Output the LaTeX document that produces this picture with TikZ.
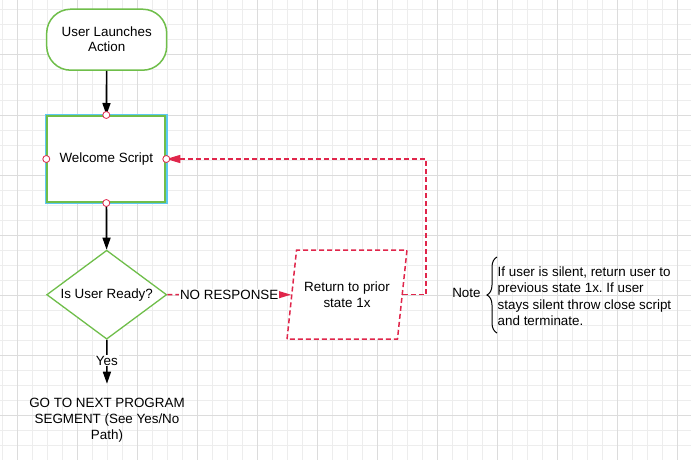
\documentclass[tikz,border=0pt]{standalone}
\usepackage{fontspec}
\setmainfont{Liberation Sans}
\usetikzlibrary{arrows.meta,shapes.geometric,decorations.pathreplacing}
\definecolor{flowgreen}{HTML}{6FBE4A}
\definecolor{flowred}{HTML}{E0264B}
\definecolor{selblue}{HTML}{5CC8F2}
\definecolor{gridminor}{HTML}{EDEDED}
\definecolor{gridmajor}{HTML}{DCDCDC}
\tikzset{
	every node/.style={font=\fontsize{13.4}{16}\selectfont},
	terminal/.style={draw=flowgreen, line width=1.5pt, fill=white, rounded corners=24pt,
		minimum width=120pt, minimum height=61pt, align=center, font=\fontsize{13.4}{15}\selectfont},
	process/.style={draw=flowgreen, line width=2pt, fill=white, minimum width=118pt, minimum height=86pt},
	decision/.style={draw=flowgreen, line width=1.3pt, fill=white, diamond, aspect=1.35, inner sep=0pt,
		minimum width=120pt, minimum height=89pt},
	retrybox/.style={draw=flowred, line width=1.5pt, dash pattern=on 5pt off 3pt, fill=white, trapezium,
		trapezium left angle=75, trapezium right angle=105, trapezium stretches=true,
		minimum width=120pt, minimum height=89pt, align=center},
	flowarrow/.style={draw=black, line width=1.6pt, -{Triangle[length=12pt,width=8pt]}},
	redarrow/.style={draw=flowred, line width=1.5pt, dash pattern=on 5pt off 3pt,
		-{Triangle[length=14pt,width=8pt,fill=flowred]}},
	edgelabel/.style={fill=white, inner sep=1pt},
	anchordot/.style={draw=flowred, line width=0.8pt, fill=white},
	notebrace/.style={draw=black, line width=1pt, decorate, decoration={brace, amplitude=10pt}}
}

\begin{document}
\frenchspacing
\begin{tikzpicture}[x=1pt, y=-1pt]
		%%%%% START %%%%%
		\fill[white] (0, 0) rectangle (691, 460);
		\useasboundingbox (0, 0) rectangle (691, 460);
		
		% grid
		\foreach \gx in {2,17,...,692} \draw[gridminor, line width=1pt] (\gx, 0) -- (\gx, 460);
		\foreach \gy in {10,25,...,460} \draw[gridminor, line width=1pt] (0, \gy) -- (691, \gy);
		\foreach \gx in {17,77,...,692} \draw[gridmajor, line width=1pt] (\gx, 0) -- (\gx, 460);
		\foreach \gy in {55,115,...,460} \draw[gridmajor, line width=1pt] (0, \gy) -- (691, \gy);
		
		% shapes
		\node[terminal] (launch) at (106.7, 39.7) {User Launches\\Action};
		\node[process] (welcome) at (106.3, 159) {Welcome Script};
		\draw[selblue, line width=1.5pt] ([shift={(-0.7pt,0.7pt)}]welcome.north west) rectangle ([shift={(0.7pt,-0.7pt)}]welcome.south east);
		\node[decision] (ready) at (106.7, 294.7) {Is User Ready?};
		\node[retrybox] (retry) at (347, 294.7) {Return to prior\\state 1x};
		\node[align=center, inner sep=2pt] (next) at (107, 420) {GO TO NEXT PROGRAM\\SEGMENT (See Yes/No\\Path)};
		\coordinate (loopcorner) at (426, 159);
		
		% connectors
		\draw[flowarrow] (launch) -- (welcome);
		\draw[flowarrow] (welcome) -- (ready);
		\draw[flowarrow, shorten >=12pt] (ready) -- node[edgelabel, pos=0.37] {Yes} (next.north);
		\draw[redarrow] (ready) -- node[edgelabel] {NO RESPONSE} (retry);
		\draw[redarrow] (retry.east) -| (loopcorner) -- (welcome.east);
		
		\foreach \a in {north,south,east,west}
			\draw[anchordot] (welcome.\a) circle (3.5pt);
		
		% note
		\node (note) at (466.4, 293.3) {Note};
		\draw[notebrace] (497, 333) -- (497, 257);
		\node[anchor=west, align=left, inner sep=0pt, font=\fontsize{13.4}{16.3}\selectfont] (notetext) at (497.5, 296.2)
			{If user is silent, return user to\\previous state 1x. If user\\stays silent throw close script\\and terminate.};
		%%%%% END %%%%%
	\end{tikzpicture}
\end{document}
